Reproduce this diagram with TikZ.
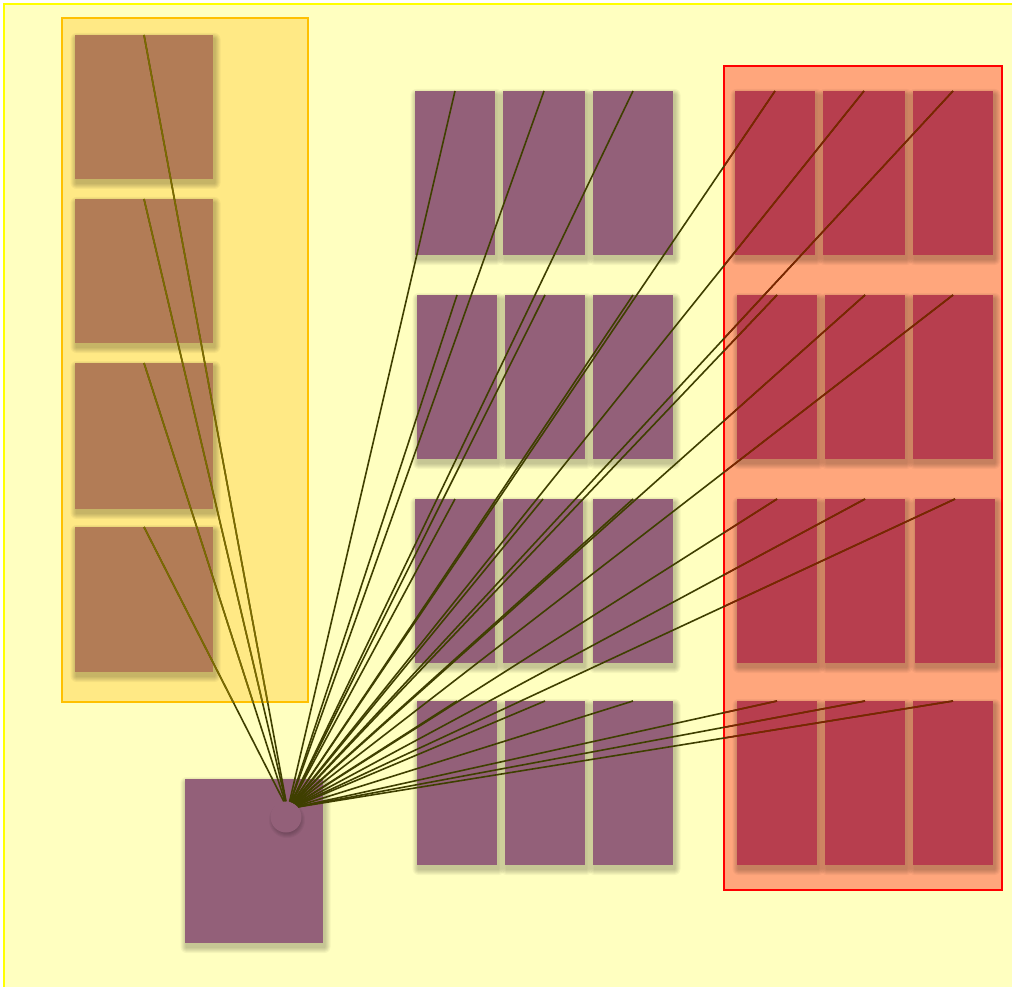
\documentclass[tikz,border=0pt]{standalone}
\usetikzlibrary{calc}
\pgfdeclarelayer{back}
\pgfdeclarelayer{shadowlayer}
\pgfsetlayers{back,shadowlayer,main}
\definecolor{bgfill}{HTML}{FFFFC0}
\definecolor{bgline}{HTML}{FFFF00}
\definecolor{ypanel}{HTML}{FFE985}
\definecolor{ypanelline}{HTML}{FFC000}
\definecolor{rpanel}{HTML}{FFA67C}
\definecolor{rpanelline}{HTML}{FF0000}
\definecolor{brownbox}{HTML}{B27C56}
\definecolor{purplebox}{HTML}{936079}
\definecolor{redbox}{HTML}{B73E4E}
\definecolor{linkdark}{HTML}{3F3F00}
\definecolor{linkolive}{HTML}{7D6B00}
\definecolor{linkred}{HTML}{7D2400}
\newcommand\alllinks[1]{%
  \foreach \t/\a in {b1/90,b2/91.6,b3/94.1,b4/98.9,
    p11/77.2,p12/73.6,p13/70.3,p21/74.4,p22/69.8,p23/65.8,
    p31/68.9,p32/62.8,p33/58.1,p41/53.4,p42/47.8,p43/44.7,
    r11/65.6,r12/63.1,r13/60.8,r21/60.4,r22/57.8,r23/55.6,
    r31/52.7,r32/50.4,r33/48.6,r41/41.8,r42/40.7,r43/40}
  {\draw[link,#1] (\t.north) -- (c.\a);}}
\begin{document}
\begin{tikzpicture}[x=1pt,y=-1pt,
  cell/.style={draw=none,inner sep=0pt,outer sep=0pt,anchor=north west,minimum width=80pt,minimum height=164pt},
  brownsq/.style={draw=none,fill=brownbox,inner sep=0pt,outer sep=0pt,anchor=north west,minimum width=138pt,minimum height=144pt},
  pcell/.style={cell,fill=purplebox},
  rcell/.style={cell,fill=redbox},
  panel/.style={inner sep=0pt,outer sep=0pt,anchor=north west},
  shadowring/.style={fill=black,opacity=0.04},
  link/.style={line width=1.6pt}]
\useasboundingbox (0,0) rectangle (1012,987);
\begin{pgfonlayer}{back}
% background
\node[panel,draw=bgline,line width=2pt,fill=bgfill,minimum width=1012pt,minimum height=987pt] (bg) at (4,4) {};
% panels
\node[panel,draw=ypanelline,line width=1.7pt,fill=ypanel,minimum width=246pt,minimum height=684pt] (yp) at (62,18) {};
\node[panel,draw=rpanelline,line width=1.7pt,fill=rpanel,minimum width=278pt,minimum height=824pt] (rp) at (724,66) {};
\end{pgfonlayer}
% brown boxes
\node[brownsq] (b1) at (75,35) {};
\node[brownsq] (b2) at (75,199) {};
\node[brownsq,minimum height=146pt] (b3) at (75,363) {};
\node[brownsq,minimum height=145pt] (b4) at (75,527) {};
% purple grid
\node[pcell] (p11) at (415,91) {};
\node[pcell,minimum width=82pt] (p12) at (503,91) {};
\node[pcell] (p13) at (593,91) {};
\node[pcell] (p21) at (417,295) {};
\node[pcell] (p22) at (505,295) {};
\node[pcell] (p23) at (593,295) {};
\node[pcell] (p31) at (415,499) {};
\node[pcell] (p32) at (503,499) {};
\node[pcell] (p33) at (593,499) {};
\node[pcell] (p41) at (417,701) {};
\node[pcell] (p42) at (505,701) {};
\node[pcell] (p43) at (593,701) {};
% red grid
\node[rcell] (r11) at (735,91) {};
\node[rcell,minimum width=82pt] (r12) at (823,91) {};
\node[rcell] (r13) at (913,91) {};
\node[rcell] (r21) at (737,295) {};
\node[rcell] (r22) at (825,295) {};
\node[rcell] (r23) at (913,295) {};
\node[rcell] (r31) at (737,499) {};
\node[rcell] (r32) at (825,499) {};
\node[rcell] (r33) at (915,499) {};
\node[rcell] (r41) at (737,701) {};
\node[rcell] (r42) at (825,701) {};
\node[rcell] (r43) at (913,701) {};
% source square and circle
\node[fill=purplebox,inner sep=0pt,outer sep=0pt,anchor=north west,minimum width=138pt,minimum height=164pt] (src) at (185,779) {};
% soft shadows
\begin{pgfonlayer}{shadowlayer}
\foreach \n in {b1,b2,b3,b4,p11,p12,p13,p21,p22,p23,p31,p32,p33,p41,p42,p43,
  r11,r12,r13,r21,r22,r23,r31,r32,r33,r41,r42,r43,src}
  {\foreach \k in {1,...,6}
    {\fill[shadowring,rounded corners=\k pt] ($(\n.north west)+(1.5-\k,4-\k)$) rectangle ($(\n.south east)+(1.5+\k,4+\k)$);}}
\end{pgfonlayer}
\foreach \k in {1,...,6}
  {\fill[shadowring] (287,820) circle ({12+\k});}
\node[circle,fill=purplebox,inner sep=0pt,minimum size=31pt] (c) at (286,817) {};
% connectors
\alllinks{linkdark}
\begin{scope}
  \clip (62,18) rectangle (308,702);
  \alllinks{linkolive}
\end{scope}
\begin{scope}
  \clip (724,66) rectangle (1002,890);
  \alllinks{linkred}
\end{scope}
\end{tikzpicture}
\end{document}
